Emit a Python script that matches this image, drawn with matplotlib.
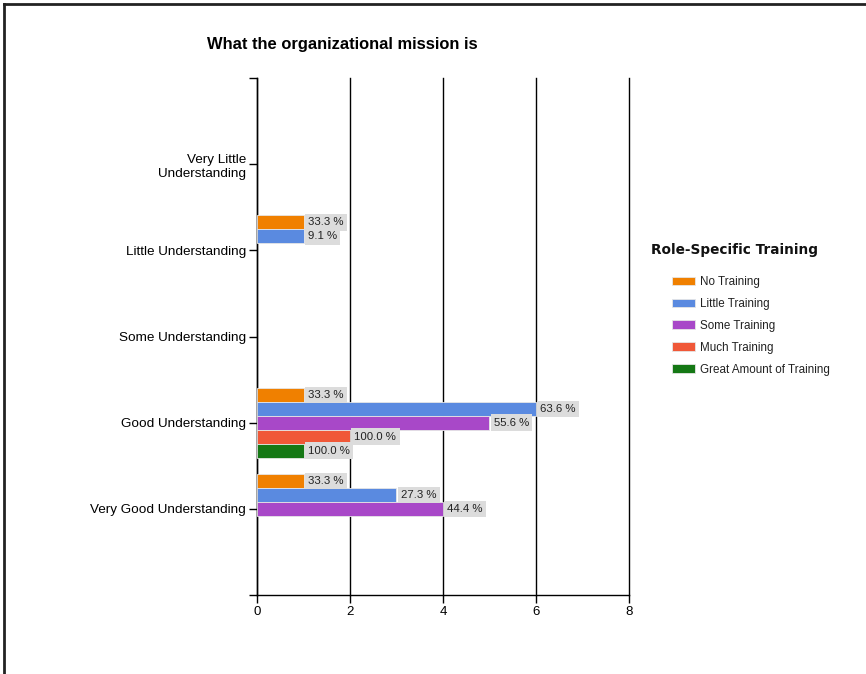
import matplotlib
matplotlib.use("Agg")
import matplotlib.pyplot as plt
from matplotlib.patches import Patch
from matplotlib.lines import Line2D
import numpy as np

plt.rcParams["font.family"] = ["Liberation Sans", "DejaVu Sans"]

title = "What the organizational mission is"
legend_title = "Role-Specific Training"

categories = ["Very Little\nUnderstanding", "Little Understanding", "Some Understanding",
              "Good Understanding", "Very Good Understanding"]
series = ["No Training", "Little Training", "Some Training", "Much Training",
          "Great Amount of Training"]
colors = ["#F08000", "#5A8AE0", "#A848C8", "#F05838", "#157815"]

# counts per category (None = no bar) and the percentage shown beside each bar
counts = {
    "No Training":              [None, 1, None, 1, 1],
    "Little Training":          [None, 1, None, 6, 3],
    "Some Training":            [None, None, None, 5, 4],
    "Much Training":            [None, None, None, 2, None],
    "Great Amount of Training": [None, None, None, 1, None],
}
percents = {
    "No Training":              [None, 33.3, None, 33.3, 33.3],
    "Little Training":          [None, 9.1, None, 63.6, 27.3],
    "Some Training":            [None, None, None, 55.6, 44.4],
    "Much Training":            [None, None, None, 100.0, None],
    "Great Amount of Training": [None, None, None, 100.0, None],
}
x_ticks = [0, 2, 4, 6, 8]

W, H = 866, 674
fig = plt.figure(figsize=(W / 100, H / 100), dpi=100)
ax = fig.add_axes([257 / W, 1 - 595 / H, (629 - 257) / W, (595 - 78) / H])

n = len(series)
bar_h = 0.162
positions = np.arange(1, len(categories) + 1)
for i, (name, col) in enumerate(zip(series, colors)):
    offset = (i - (n - 1) / 2) * bar_h
    for pos, v, p in zip(positions, counts[name], percents[name]):
        if v is None:
            continue
        ax.barh(pos + offset, v, height=bar_h, color=col, edgecolor="#e6e6e6",
                linewidth=0.6, zorder=3)
        ax.annotate(f"{p:.1f} %", xy=(v, pos + offset), xytext=(3.2, 0),
                    textcoords="offset points", ha="left", va="center",
                    fontsize=8.2, color="#222222", zorder=4,
                    bbox=dict(boxstyle="square,pad=0.28", facecolor="#dcdcdc",
                              edgecolor="none"))

ax.set_xlim(0, 8)
ax.set_ylim(6, 0)
ax.set_xticks(x_ticks)
ax.set_xticklabels([str(t) for t in x_ticks], fontsize=9.5)
ax.set_yticks(np.arange(0, 7))
ax.set_yticklabels([""] + categories + [""], fontsize=9.7, ha="right",
                   linespacing=1.3)
ax.tick_params(axis="y", length=6, width=1, color="black", pad=2)
ax.tick_params(axis="x", length=6, width=1, color="black", pad=2)
ax.xaxis.grid(True, color="black", linewidth=1, zorder=0)
for gl in ax.get_xgridlines():
    gl.set_clip_on(False)
ax.set_axisbelow(True)
for s in ["top", "right"]:
    ax.spines[s].set_visible(False)
for s in ["left", "bottom"]:
    ax.spines[s].set_linewidth(1)
    ax.spines[s].set_color("black")

fig.text(207 / W, 1 - 44 / H, title, fontsize=11.9, fontweight="bold",
         ha="left", va="center")

fig.text(651 / W, 1 - 250 / H, legend_title, fontsize=9.8, fontweight="bold",
         family=["DejaVu Sans"], ha="left", va="center", color="#111111")
handles = [Patch(facecolor=c, edgecolor="#e6e6e6", linewidth=0.6) for c in colors]
leg = fig.legend(handles, series, loc="upper left",
                 bbox_to_anchor=(672 / W, 1 - 276 / H), frameon=False,
                 fontsize=8.4, handlelength=1.95, handleheight=0.75,
                 labelspacing=0.85, handletextpad=0.45, borderaxespad=0,
                 borderpad=0)
for t in leg.get_texts():
    t.set_color("#222222")

# frame lines along the top and left edges of the figure
fig.add_artist(Line2D([3.5 / W, 1], [1 - 3.5 / H, 1 - 3.5 / H], color="#222222",
                      linewidth=2, transform=fig.transFigure))
fig.add_artist(Line2D([3.5 / W, 3.5 / W], [0, 1 - 3.5 / H], color="#222222",
                      linewidth=2, transform=fig.transFigure))

fig.savefig("out.png", dpi=100)
